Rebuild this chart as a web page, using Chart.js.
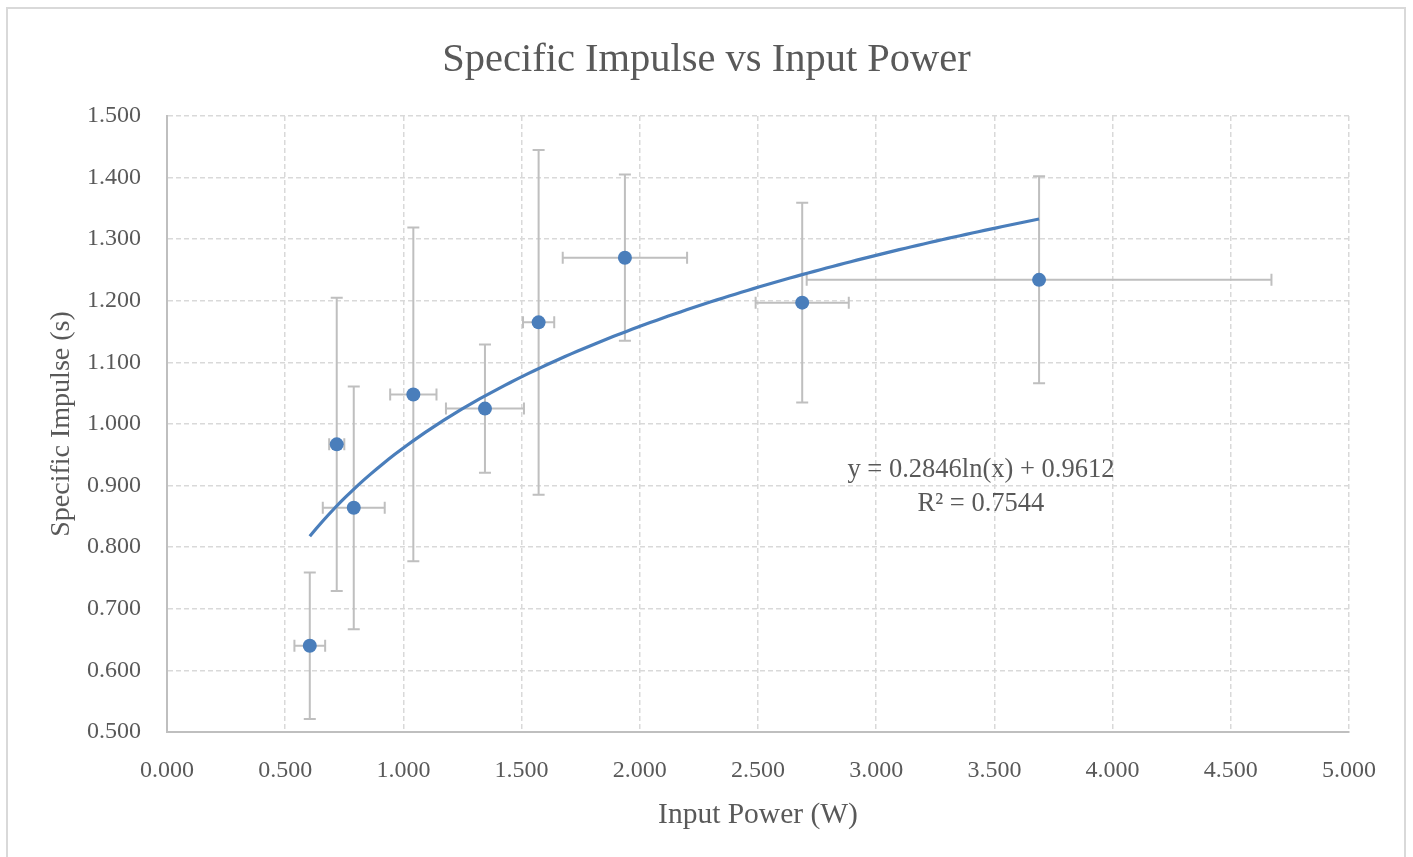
<!DOCTYPE html>
<html>
<head>
<meta charset="utf-8">
<script src="https://cdn.jsdelivr.net/npm/chart.js@4.4.1/dist/chart.umd.min.js"></script>
<style>
  html, body { margin: 0; padding: 0; background: #ffffff; }
  #wrap { position: relative; width: 1413px; height: 857px; overflow: hidden; }
  canvas { display: block; }
</style>
</head>
<body>
<div id="wrap"><canvas id="c" width="1413" height="857"></canvas></div>
<script>
// ---- Data ----
const inputPower      = [0.604, 0.718, 0.790, 1.042, 1.345, 1.572, 1.937, 2.687, 3.689];
const specificImpulse = [0.640, 0.967, 0.864, 1.048, 1.025, 1.165, 1.270, 1.197, 1.234];
const powerError      = [0.065, 0.032, 0.131, 0.098, 0.165, 0.066, 0.263, 0.197, 0.983];
const impulseError    = [0.119, 0.238, 0.197, 0.271, 0.104, 0.280, 0.135, 0.162, 0.168];

// Logarithmic trendline shown on the chart: y = a ln(x) + b
const trendA = 0.2846;
const trendB = 0.9612;
const trendLabel = ['y = 0.2846ln(x) + 0.9612', 'R² = 0.7544'];

const xTickLabels = ['0.000','0.500','1.000','1.500','2.000','2.500','3.000','3.500','4.000','4.500','5.000'];
const yTickLabels = ['0.500','0.600','0.700','0.800','0.900','1.000','1.100','1.200','1.300','1.400','1.500'];

const chartTitle = 'Specific Impulse vs Input Power';
const xTitle = 'Input Power (W)';
const yTitle = 'Specific Impulse (s)';

// ---- Build datasets ----
const points = inputPower.map((x, i) => ({ x: x, y: specificImpulse[i] }));
const xMinData = Math.min(...inputPower);
const xMaxData = Math.max(...inputPower);
const trendPoints = [];
const N = 120;
for (let k = 0; k <= N; k++) {
  const x = xMinData + (xMaxData - xMinData) * k / N;
  trendPoints.push({ x: x, y: trendA * Math.log(x) + trendB });
}

const FONT = "'Liberation Serif', 'DejaVu Serif', serif";
const TEXT = '#595959';
const BLUE = '#4a7ebb';
const ERR = '#bfbfbf';

const frame = {
  id: 'frame',
  beforeDraw(chart) {
    const ctx = chart.ctx;
    ctx.save();
    ctx.fillStyle = '#ffffff';
    ctx.fillRect(0, 0, chart.width, chart.height);
    ctx.strokeStyle = '#d9d9d9';
    ctx.lineWidth = 2;
    ctx.strokeRect(7, 8, 1398, 870);
    ctx.restore();
  }
};

const errorBars = {
  id: 'errorBars',
  beforeDatasetsDraw(chart) {
    const ctx = chart.ctx;
    const xs = chart.scales.x, ys = chart.scales.y;
    const cap = 6;
    ctx.save();
    ctx.strokeStyle = ERR;
    ctx.lineWidth = 2;
    inputPower.forEach((xv, i) => {
      const yv = specificImpulse[i];
      const px = xs.getPixelForValue(xv);
      const py = ys.getPixelForValue(yv);
      const yTop = ys.getPixelForValue(yv + impulseError[i]);
      const yBot = ys.getPixelForValue(yv - impulseError[i]);
      const xL = xs.getPixelForValue(xv - powerError[i]);
      const xR = xs.getPixelForValue(xv + powerError[i]);
      ctx.beginPath();
      ctx.moveTo(px, yTop); ctx.lineTo(px, yBot);
      ctx.moveTo(px - cap, yTop); ctx.lineTo(px + cap, yTop);
      ctx.moveTo(px - cap, yBot); ctx.lineTo(px + cap, yBot);
      ctx.moveTo(xL, py); ctx.lineTo(xR, py);
      ctx.moveTo(xL, py - cap); ctx.lineTo(xL, py + cap);
      ctx.moveTo(xR, py - cap); ctx.lineTo(xR, py + cap);
      ctx.stroke();
    });
    ctx.restore();
  }
};

const trendText = {
  id: 'trendText',
  afterDatasetsDraw(chart) {
    const ctx = chart.ctx;
    const xs = chart.scales.x, ys = chart.scales.y;
    const cx = xs.getPixelForValue(3.443);
    ctx.save();
    ctx.font = "26.5px " + FONT;
    ctx.fillStyle = TEXT;
    ctx.textAlign = 'center';
    ctx.textBaseline = 'middle';
    ctx.fillText(trendLabel[0], cx, ys.getPixelForValue(0.9253));
    ctx.fillText(trendLabel[1], cx, ys.getPixelForValue(0.870));
    ctx.restore();
  }
};

new Chart(document.getElementById('c'), {
  type: 'scatter',
  data: {
    datasets: [
      {
        label: 'Specific Impulse',
        data: points,
        backgroundColor: BLUE,
        borderColor: BLUE,
        pointRadius: 7,
        pointBorderWidth: 0,
        pointHoverRadius: 7,
        showLine: false,
        order: 0
      },
      {
        label: 'Log trendline',
        type: 'line',
        data: trendPoints,
        borderColor: BLUE,
        borderWidth: 3.2,
        pointRadius: 0,
        fill: false,
        tension: 0,
        order: 1
      }
    ]
  },
  options: {
    responsive: false,
    devicePixelRatio: 1,
    animation: false,
    layout: { padding: { top: 0, left: 64, right: 64, bottom: 0 } },
    plugins: {
      legend: { display: false },
      tooltip: { enabled: false },
      title: {
        display: true,
        text: chartTitle,
        color: TEXT,
        font: { family: FONT, size: 40.5, weight: 'normal' },
        padding: { top: 36, bottom: 31.4 }
      }
    },
    scales: {
      x: {
        type: 'linear',
        min: 0, max: 5,
        afterFit(scale) { scale.height = 125; },
        ticks: {
          stepSize: 0.5,
          padding: 24,
          color: TEXT,
          font: { family: FONT, size: 24 },
          callback: (v, i) => xTickLabels[i]
        },
        grid: { color: '#d9d9d9', lineWidth: 1.5, drawTicks: false },
        border: { display: true, color: '#bfbfbf', width: 2, dash: [5, 3] },
        title: {
          display: true,
          text: xTitle,
          color: TEXT,
          font: { family: FONT, size: 29.5 },
          padding: { top: 0, bottom: 24 }
        }
      },
      y: {
        type: 'linear',
        min: 0.5, max: 1.5,
        afterFit(scale) { scale.width = 103; },
        ticks: {
          stepSize: 0.1,
          padding: 26,
          color: TEXT,
          font: { family: FONT, size: 24 },
          callback: (v, i) => yTickLabels[i]
        },
        grid: { color: '#d9d9d9', lineWidth: 1.5, drawTicks: false },
        border: { display: true, color: '#bfbfbf', width: 2, dash: [5, 3] },
        title: {
          display: true,
          text: yTitle,
          color: TEXT,
          font: { family: FONT, size: 28 },
          padding: { top: -19, bottom: 0 }
        }
      }
    }
  },
  plugins: [frame, errorBars, trendText]
});
</script>
</body>
</html>
